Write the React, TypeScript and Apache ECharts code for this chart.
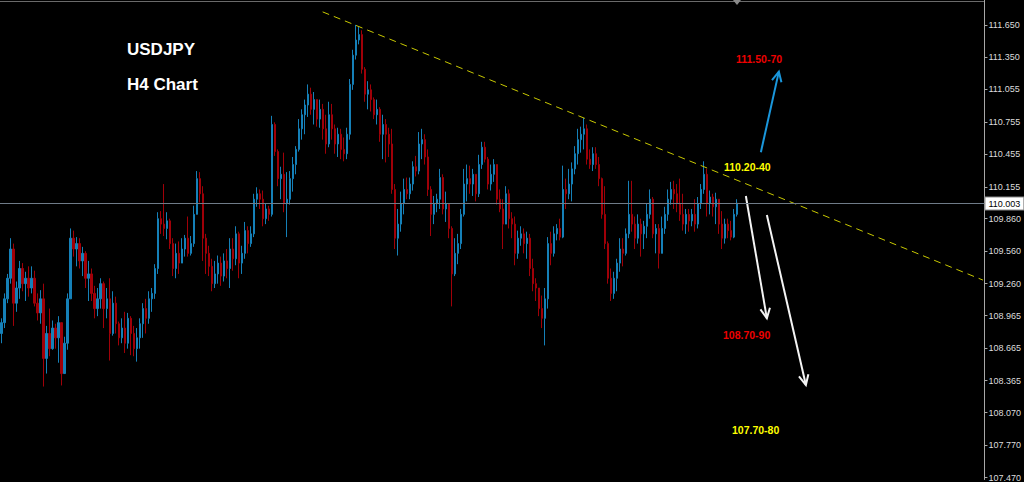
import React, { useEffect, useRef } from "react";
import * as echarts from "echarts";

// ---- data (USDJPY H4) ----
const firstOpen = 108.8;
const closes = [
  108.90,109.12,109.31,109.58,109.08,109.22,109.40,109.26,109.31,109.22,
  109.31,109.08,108.99,109.12,108.57,108.80,108.66,108.85,108.76,108.90,
  108.43,108.71,109.12,109.68,109.58,109.63,109.47,109.54,109.31,109.35,
  109.17,109.03,109.12,109.26,109.03,109.12,108.80,109.08,108.89,108.76,
  108.85,108.71,108.94,108.80,108.66,108.76,108.89,109.03,108.94,109.12,
  109.17,109.40,109.86,109.81,109.77,109.84,109.63,109.40,109.54,109.45,
  109.58,109.68,109.54,109.63,109.90,110.23,110.09,109.68,109.54,109.42,
  109.26,109.35,109.45,109.33,109.47,109.40,109.58,109.49,109.72,109.45,
  109.54,109.75,109.63,109.72,110.04,110.09,110.04,109.86,109.95,109.90,
  110.73,110.48,110.23,110.27,110.00,110.04,110.23,110.36,110.50,110.69,
  110.82,110.91,111.01,110.87,110.96,110.78,110.87,110.69,110.55,110.82,
  110.69,110.55,110.64,110.50,110.46,110.64,111.10,111.37,111.51,111.56,
  111.24,111.01,111.05,110.96,110.82,110.87,110.64,110.73,110.64,110.55,
  110.13,109.68,109.81,110.00,110.13,110.09,110.18,110.34,110.30,110.55,
  110.59,110.43,110.13,109.90,110.00,110.04,110.24,109.95,110.00,109.77,
  109.35,109.54,109.63,109.90,110.18,110.23,110.18,110.27,110.09,110.36,
  110.52,110.41,110.18,110.27,110.36,110.04,109.95,109.81,110.09,109.86,
  109.81,109.54,109.68,109.72,109.63,109.68,109.40,109.26,109.22,109.03,
  108.94,109.12,109.63,109.54,109.72,109.77,109.69,110.13,110.09,110.18,
  110.32,110.46,110.59,110.64,110.69,110.41,110.36,110.46,110.36,110.23,
  109.90,109.63,109.31,109.17,109.31,109.45,109.58,109.54,109.72,109.90,
  109.81,109.68,109.81,109.72,109.79,109.90,110.04,109.72,109.77,109.54,
  109.77,109.90,110.04,110.13,110.09,110.00,109.90,109.81,109.90,109.84,
  109.90,109.81,110.00,110.13,110.27,110.00,110.06,109.97,110.04,109.81,
  109.68,109.81,109.75,109.69,109.90,110.003,
];
const highs = [
  108.94,109.17,109.35,109.68,109.63,109.28,109.47,109.45,109.37,109.42,
  109.42,109.38,109.17,109.20,109.26,108.87,109.03,108.92,108.89,108.96,
  108.85,108.77,109.17,109.77,109.75,109.69,109.68,109.60,109.56,109.47,
  109.40,109.24,109.22,109.31,109.28,109.22,109.31,109.19,109.14,108.91,
  108.94,109.00,108.99,108.96,108.87,108.85,108.94,109.08,109.12,109.19,
  109.22,109.44,109.92,109.93,110.18,109.92,109.86,109.68,109.63,109.65,
  109.68,109.71,109.88,109.70,109.98,110.30,110.29,110.16,109.72,109.61,
  109.49,109.47,109.52,109.51,109.54,109.58,109.68,109.68,109.79,109.74,
  109.61,109.83,109.79,109.79,110.09,110.15,110.13,110.12,110.00,109.98,
  110.81,110.75,110.50,110.34,110.47,110.29,110.30,110.43,110.53,110.78,
  110.87,110.96,111.10,111.07,111.03,110.96,110.96,110.92,110.82,110.94,
  110.92,110.73,110.70,110.69,110.61,110.70,111.15,111.42,111.65,111.63,
  111.60,111.26,111.13,111.10,110.98,110.96,110.89,110.82,110.78,110.70,
  110.69,110.18,109.95,110.11,110.23,110.24,110.24,110.39,110.44,110.66,
  110.69,110.64,110.50,110.16,110.07,110.09,110.32,110.27,110.11,109.95,
  109.79,109.68,109.72,109.95,110.32,110.36,110.35,110.32,110.27,110.45,
  110.57,110.57,110.43,110.36,110.41,110.23,110.13,110.04,110.16,110.13,
  109.92,109.88,109.75,109.79,109.77,109.74,109.72,109.49,109.31,109.22,
  109.15,109.22,109.69,109.74,109.79,109.81,109.86,110.35,110.23,110.32,
  110.38,110.53,110.69,110.71,110.79,110.73,110.50,110.52,110.52,110.43,
  110.24,110.16,109.65,109.40,109.37,109.49,109.68,109.68,109.77,110.21,
  110.21,109.88,109.90,109.86,109.84,110.00,110.13,110.06,109.81,109.81,
  109.88,109.97,110.13,110.20,110.21,110.18,110.23,110.09,109.95,109.95,
  109.95,110.04,110.06,110.18,110.39,110.32,110.12,110.09,110.10,110.04,
  109.93,109.86,109.86,109.84,109.95,110.04,
];
const lows = [
  108.71,108.85,109.08,109.26,108.87,109.00,109.12,109.19,109.10,109.14,
  109.17,109.05,108.92,108.89,108.31,108.43,108.59,108.65,108.66,108.53,
  108.32,108.46,108.65,109.12,109.51,109.42,109.40,109.33,109.22,109.10,
  109.10,108.94,108.96,109.03,108.85,108.94,108.55,108.78,108.80,108.69,
  108.71,108.62,108.66,108.60,108.59,108.54,108.66,108.76,108.80,108.89,
  109.00,109.12,109.35,109.72,109.70,109.67,109.58,109.33,109.31,109.35,
  109.47,109.51,109.51,109.52,109.60,109.93,110.01,109.47,109.35,109.33,
  109.19,109.22,109.26,109.24,109.28,109.31,109.22,109.38,109.43,109.31,
  109.35,109.49,109.54,109.60,109.69,109.97,109.95,109.79,109.81,109.84,
  109.88,110.44,110.16,110.04,109.92,109.69,109.99,110.11,110.27,110.48,
  110.59,110.64,110.80,110.82,110.73,110.71,110.70,110.59,110.46,110.52,
  110.59,110.46,110.43,110.41,110.39,110.41,110.59,111.05,111.33,111.47,
  111.20,110.94,110.87,110.85,110.78,110.73,110.57,110.41,110.38,110.43,
  110.09,109.58,109.52,109.74,109.90,110.04,110.04,110.12,110.25,110.27,
  110.41,110.36,110.07,109.70,109.81,109.92,109.95,109.90,109.83,109.68,
  109.05,109.33,109.44,109.58,109.88,110.02,110.09,110.07,110.02,110.06,
  110.32,110.38,110.13,110.12,110.20,109.99,109.92,109.58,109.86,109.77,
  109.68,109.43,109.49,109.61,109.54,109.49,109.33,109.19,109.10,108.96,
  108.85,108.69,109.03,109.43,109.51,109.66,109.66,109.68,109.95,110.04,
  110.02,110.27,110.36,110.47,110.50,110.36,110.32,110.30,110.32,110.16,
  109.86,109.58,109.26,109.10,109.12,109.19,109.37,109.42,109.52,109.68,
  109.74,109.58,109.63,109.51,109.58,109.68,109.86,109.68,109.54,109.40,
  109.66,109.72,109.84,109.99,109.95,109.92,109.84,109.75,109.72,109.74,
  109.79,109.74,109.77,109.95,110.09,109.88,109.90,109.88,109.81,109.72,
  109.58,109.63,109.68,109.66,109.68,109.88,
];
const slotCount = 328;
const yTicks = [111.65, 111.35, 111.055, 110.755, 110.455, 110.155, 109.86, 109.56, 109.26, 108.965, 108.665, 108.365, 108.07, 107.77, 107.47];
const yMin = 107.4516;
const yMax = 111.8797;
const currentPrice = 110.003;
const trendLine = [[107, 111.77], [327, 109.293]];
const arrowFrom = [[253, 110.474], [248, 110.07], [255, 109.895]];
const arrowTo = [[259, 111.218], [255, 108.94], [268, 108.324]];
const arrowColors = ["#1a97dc", "#f4f4f4", "#f4f4f4"];
const titleTexts = ["USDJPY", "H4 Chart"];
const targetTexts = ["111.50-70", "110.20-40", "108.70-90", "107.70-80"];
const targetColors = ["#ee0000", "#ffff00", "#ee0000", "#ffff00"];

export default function App() {
  const ref = useRef<HTMLDivElement>(null);
  useEffect(() => {
    document.body.style.margin = "0";
    document.body.style.background = "#000";
    const chart = echarts.init(ref.current!, undefined, { renderer: "svg" });
    const cats = Array.from({ length: slotCount }, (_, i) => String(i));
    const candles = closes.map((c, i) => {
      const o = i === 0 ? firstOpen : closes[i - 1];
      return [o, c, Math.min(lows[i], o, c), Math.max(highs[i], o, c)];
    });
    const arrowData = arrowFrom.map((f, i) => ({
      value: [f[0], f[1], arrowTo[i][0], arrowTo[i][1]],
      itemStyle: { color: arrowColors[i] },
    }));
    const textPos = [[736, 59], [724, 166.5], [723, 335], [732, 430]];
    const font = '"Liberation Sans", Arial, sans-serif';
    chart.setOption({
      animation: false,
      backgroundColor: "#000",
      grid: { left: 0, right: 39, top: 0, bottom: 0 },
      xAxis: {
        type: "category",
        data: cats,
        show: false,
        boundaryGap: true,
      },
      yAxis: {
        type: "value",
        position: "right",
        min: yMin,
        max: yMax,
        splitLine: { show: false },
        axisLine: { show: true, lineStyle: { color: "#a8a8a8", width: 1 } },
        axisTick: { show: true, length: 3, lineStyle: { color: "#a8a8a8" }, customValues: yTicks },
        axisLabel: {
          show: true,
          customValues: yTicks,
          formatter: (v: number) => v.toFixed(3),
          color: "#dcdcdc",
          fontSize: 9,
          fontFamily: font,
          margin: 4,
        },
      },
      series: [
        {
          type: "candlestick",
          data: candles,
          barWidth: 1.6,
          itemStyle: {
            color: "#1580b8",
            color0: "#a00008",
            borderColor: "#1580b8",
            borderColor0: "#a00008",
            borderWidth: 1,
          },
          markLine: {
            silent: true,
            symbol: ["none", "none"],
            data: [{ yAxis: currentPrice }],
            lineStyle: { color: "#6f7b88", width: 1, type: "solid" },
            label: {
              show: true,
              position: "end",
              distance: 1,
              formatter: currentPrice.toFixed(3),
              backgroundColor: "#ffffff",
              borderColor: "#888",
              borderWidth: 1,
              color: "#000",
              fontSize: 9,
              fontFamily: font,
              padding: [2, 3, 1, 3],
            },
          },
        },
        {
          type: "line",
          data: trendLine,
          symbol: "none",
          silent: true,
          lineStyle: { color: "#c8c800", width: 1, type: [7, 5] },
        },
        {
          type: "custom",
          data: arrowData,
          clip: false,
          silent: true,
          encode: { x: 0, y: 1 },
          renderItem: (params: any, api: any) => {
            const a = api.coord([api.value(0), api.value(1)]);
            const b = api.coord([api.value(2), api.value(3)]);
            const color = api.visual("color");
            const dx = b[0] - a[0];
            const dy = b[1] - a[1];
            const len = Math.hypot(dx, dy);
            const ux = -dx / len;
            const uy = -dy / len;
            const L = 11;
            const t = (26 * Math.PI) / 180;
            const r1 = [ux * Math.cos(t) - uy * Math.sin(t), ux * Math.sin(t) + uy * Math.cos(t)];
            const r2 = [ux * Math.cos(-t) - uy * Math.sin(-t), ux * Math.sin(-t) + uy * Math.cos(-t)];
            return {
              type: "group",
              children: [
                { type: "line", shape: { x1: a[0], y1: a[1], x2: b[0], y2: b[1] }, style: { stroke: color, lineWidth: 2 } },
                {
                  type: "polyline",
                  shape: { points: [[b[0] + r1[0] * L, b[1] + r1[1] * L], [b[0], b[1]], [b[0] + r2[0] * L, b[1] + r2[1] * L]] },
                  style: { stroke: color, lineWidth: 2, fill: null },
                },
              ],
            };
          },
        },
      ],
      graphic: [
        { type: "line", shape: { x1: 0, y1: 1.5, x2: 985, y2: 1.5 }, style: { stroke: "#6a6a6a", lineWidth: 1 }, silent: true },
        { type: "polygon", shape: { points: [[733, 0], [741, 0], [737, 5]] }, style: { fill: "#8a8a8a" }, silent: true },
        ...titleTexts.map((t, i) => ({
          type: "text",
          x: 127,
          y: i === 0 ? 49 : 84,
          style: { text: t, fill: "#ffffff", font: `bold 17px ${font}`, verticalAlign: "middle", align: "left" },
          silent: true,
        })),
        ...targetTexts.map((t, i) => ({
          type: "text",
          x: textPos[i][0],
          y: textPos[i][1],
          style: { text: t, fill: targetColors[i], font: `bold 10.5px ${font}`, verticalAlign: "middle", align: "left" },
          silent: true,
        })),
      ],
    });
    return () => chart.dispose();
  }, []);
  return <div ref={ref} style={{ width: 1024, height: 482, background: "#000" }} />;
}
